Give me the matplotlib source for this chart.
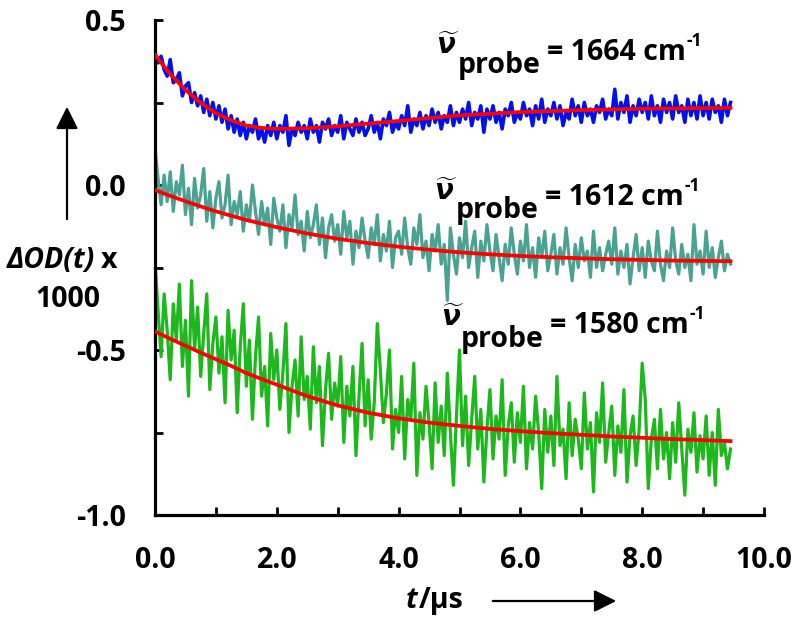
import numpy as np
import matplotlib
matplotlib.use('Agg')
import matplotlib.pyplot as plt
from matplotlib.ticker import MultipleLocator, FormatStrFormatter

plt.rcParams['font.family'] = ['Open Sans', 'DejaVu Sans']
plt.rcParams['font.weight'] = 'bold'
plt.rcParams['mathtext.fontset'] = 'custom'
plt.rcParams['mathtext.it'] = 'DejaVu Sans:italic:bold'
plt.rcParams['mathtext.rm'] = 'DejaVu Sans:bold'

# ---------------- data ----------------
t = np.round(np.arange(0, 9.46, 0.05), 2)

blue_1664 = [
    0.40, 0.37, 0.39, 0.35, 0.33, 0.38, 0.31, 0.32, 0.34, 0.27,
    0.30, 0.31, 0.25, 0.28, 0.24, 0.27, 0.22, 0.26, 0.21, 0.25,
    0.20, 0.24, 0.19, 0.23, 0.17, 0.21, 0.16, 0.20, 0.15, 0.19,
    0.14, 0.18, 0.16, 0.20, 0.14, 0.17, 0.13, 0.18, 0.15, 0.19,
    0.14, 0.18, 0.16, 0.21, 0.12, 0.17, 0.15, 0.19, 0.16, 0.18,
    0.14, 0.20, 0.16, 0.18, 0.13, 0.19, 0.17, 0.20, 0.15, 0.18,
    0.16, 0.21, 0.14, 0.19, 0.17, 0.15, 0.20, 0.16, 0.19, 0.15,
    0.17, 0.21, 0.16, 0.19, 0.14, 0.20, 0.18, 0.22, 0.16, 0.19,
    0.17, 0.21, 0.18, 0.24, 0.16, 0.20, 0.18, 0.22, 0.17, 0.21,
    0.18, 0.23, 0.19, 0.22, 0.17, 0.21, 0.19, 0.24, 0.18, 0.22,
    0.19, 0.23, 0.20, 0.25, 0.18, 0.22, 0.20, 0.24, 0.16, 0.23,
    0.20, 0.24, 0.19, 0.22, 0.17, 0.23, 0.21, 0.25, 0.19, 0.22,
    0.20, 0.25, 0.21, 0.23, 0.18, 0.24, 0.20, 0.26, 0.19, 0.23,
    0.21, 0.25, 0.20, 0.24, 0.18, 0.22, 0.20, 0.26, 0.21, 0.24,
    0.19, 0.25, 0.21, 0.23, 0.19, 0.24, 0.22, 0.26, 0.20, 0.23,
    0.21, 0.29, 0.20, 0.25, 0.22, 0.27, 0.19, 0.24, 0.21, 0.26,
    0.22, 0.25, 0.20, 0.27, 0.21, 0.24, 0.19, 0.26, 0.22, 0.25,
    0.20, 0.27, 0.22, 0.24, 0.19, 0.26, 0.21, 0.25, 0.20, 0.27,
    0.21, 0.25, 0.20, 0.26, 0.22, 0.24, 0.19, 0.26, 0.21, 0.25,
]

teal_1612 = [
    0.11, 0.02, -0.06, 0.03, -0.05, 0.04, -0.08, 0.01, -0.03, 0.06,
    -0.09, -0.01, -0.12, 0.02, -0.07, -0.03, 0.05, -0.11, -0.02, -0.13,
    -0.04, 0.01, -0.10, -0.06, 0.03, -0.12, -0.05, -0.09, -0.02, -0.14,
    -0.06, -0.11, 0.00, -0.08, -0.15, -0.05, -0.12, -0.07, -0.18, -0.04,
    -0.10, -0.14, -0.06, -0.19, -0.09, -0.13, -0.03, -0.15, -0.11, -0.20,
    -0.08, -0.16, -0.12, -0.06, -0.18, -0.10, -0.22, -0.13, -0.09, -0.17,
    -0.12, -0.21, -0.08, -0.16, -0.11, -0.24, -0.14, -0.19, -0.10, -0.17,
    -0.22, -0.13, -0.18, -0.09, -0.23, -0.15, -0.20, -0.11, -0.25, -0.16,
    -0.14, -0.21, -0.10, -0.19, -0.24, -0.13, -0.18, -0.09, -0.22, -0.17,
    -0.26, -0.15, -0.20, -0.12, -0.24, -0.18, -0.35, -0.13, -0.21, -0.27,
    -0.16, -0.22, -0.11, -0.25, -0.19, -0.14, -0.28, -0.17, -0.23, -0.12,
    -0.20, -0.26, -0.15, -0.22, -0.29, -0.18, -0.24, -0.13, -0.21, -0.27,
    -0.17, -0.23, -0.12, -0.25, -0.19, -0.28, -0.16, -0.22, -0.14, -0.26,
    -0.21, -0.15, -0.27, -0.19, -0.24, -0.13, -0.22, -0.29, -0.18, -0.25,
    -0.16, -0.23, -0.20, -0.28, -0.14, -0.25, -0.19, -0.26, -0.21, -0.17,
    -0.24, -0.13, -0.27, -0.20, -0.25, -0.18, -0.30, -0.22, -0.15, -0.26,
    -0.19, -0.28, -0.17, -0.23, -0.26, -0.14, -0.24, -0.29, -0.20, -0.25,
    -0.13, -0.23, -0.27, -0.18, -0.25, -0.21, -0.29, -0.12, -0.24, -0.20,
    -0.27, -0.14, -0.25, -0.19, -0.28, -0.22, -0.17, -0.26, -0.21, -0.24,
]

green_1580 = [
    -0.23, -0.38, -0.52, -0.33, -0.44, -0.59, -0.36, -0.47, -0.30, -0.55,
    -0.41, -0.64, -0.29, -0.50, -0.37, -0.58, -0.45, -0.33, -0.62, -0.48,
    -0.40, -0.57, -0.46, -0.66, -0.38, -0.53, -0.44, -0.69, -0.49, -0.36,
    -0.61, -0.47, -0.71, -0.52, -0.40, -0.64, -0.55, -0.73, -0.45, -0.59,
    -0.50, -0.68, -0.57, -0.42, -0.75, -0.61, -0.53, -0.70, -0.46, -0.65,
    -0.58, -0.74, -0.49, -0.66, -0.55, -0.79, -0.62, -0.51, -0.71, -0.60,
    -0.67, -0.52, -0.78, -0.61, -0.70, -0.55, -0.82, -0.64, -0.48, -0.73,
    -0.59, -0.77, -0.66, -0.42, -0.56, -0.72, -0.63, -0.50, -0.80, -0.68,
    -0.75, -0.58, -0.83, -0.65, -0.71, -0.54, -0.88, -0.69, -0.77, -0.61,
    -0.72, -0.86, -0.60, -0.78, -0.67, -0.82, -0.57, -0.75, -0.91, -0.70,
    -0.50, -0.79, -0.64, -0.85, -0.71, -0.58, -0.80, -0.68, -0.90, -0.74,
    -0.62, -0.83, -0.70, -0.77, -0.59, -0.88, -0.73, -0.66, -0.84, -0.69,
    -0.78, -0.61, -0.86, -0.72, -0.80, -0.64, -0.75, -0.92, -0.68, -0.81,
    -0.70, -0.85, -0.58, -0.79, -0.74, -0.89, -0.66, -0.82, -0.71, -0.77,
    -0.86, -0.63, -0.80, -0.72, -0.93, -0.69, -0.78, -0.60, -0.84, -0.75,
    -0.67, -0.88, -0.73, -0.81, -0.62, -0.90, -0.76, -0.70, -0.85, -0.74,
    -0.54, -0.65, -0.92, -0.77, -0.71, -0.86, -0.68, -0.83, -0.75, -0.89,
    -0.72, -0.84, -0.66, -0.80, -0.94, -0.74, -0.81, -0.69, -0.87, -0.76,
    -0.83, -0.70, -0.88, -0.75, -0.91, -0.68, -0.82, -0.78, -0.86, -0.80,
]

fit_t = [0, 0.25, 0.5, 0.75, 1, 1.25, 1.5, 1.75, 2, 2.5, 3, 3.5, 4, 4.5,
         5, 5.5, 6, 6.5, 7, 7.5, 8, 8.5, 9, 9.45]
fit_1664 = [0.394, 0.336, 0.288, 0.249, 0.218, 0.196, 0.180, 0.173, 0.170,
            0.172, 0.178, 0.186, 0.194, 0.203, 0.211, 0.216, 0.221, 0.224,
            0.227, 0.229, 0.231, 0.232, 0.233, 0.234]
fit_1612 = [-0.015, -0.033, -0.049, -0.065, -0.080, -0.093, -0.106, -0.117,
            -0.128, -0.147, -0.163, -0.176, -0.187, -0.196, -0.204, -0.210,
            -0.215, -0.219, -0.222, -0.225, -0.227, -0.229, -0.230, -0.231]
fit_1580 = [-0.444, -0.466, -0.487, -0.508, -0.528, -0.548, -0.570, -0.588,
            -0.605, -0.640, -0.668, -0.690, -0.707, -0.720, -0.730, -0.739,
            -0.746, -0.752, -0.757, -0.762, -0.766, -0.770, -0.773, -0.776]

x_ticks = [0.0, 2.0, 4.0, 6.0, 8.0, 10.0]
y_ticks = [-1.0, -0.5, 0.0, 0.5]
probe_values = ['1664', '1612', '1580']

# ---------------- figure ----------------
W, H = 800, 626
FS = 20.5
fig = plt.figure(figsize=(W / 100, H / 100), dpi=100)
ax = fig.add_axes([155 / W, (H - 515) / H, 609 / W, 495 / H])

ax.plot(t, blue_1664, color='#0010F0', lw=2.6, zorder=2)
ax.plot(t, teal_1612, color='#4AA292', lw=2.3, zorder=2)
ax.plot(t, green_1580, color='#1CB81C', lw=2.3, zorder=2)
for f in (fit_1664, fit_1612, fit_1580):
    ax.plot(fit_t, f, color='#FF0000', lw=2.7, zorder=3)

ax.set_xlim(0, 10)
ax.set_ylim(-1.0, 0.5)
ax.set_xticks(x_ticks)
ax.set_yticks(y_ticks)
ax.xaxis.set_minor_locator(MultipleLocator(1.0))
ax.yaxis.set_minor_locator(MultipleLocator(0.25))
ax.xaxis.set_major_formatter(FormatStrFormatter('%.1f'))
ax.yaxis.set_major_formatter(FormatStrFormatter('%.1f'))
for s in ('top', 'right'):
    ax.spines[s].set_visible(False)
for s in ('left', 'bottom'):
    ax.spines[s].set_linewidth(2.3)
ax.tick_params(which='both', direction='in', length=6, width=2.0)
ax.tick_params(axis='x', which='major', pad=22, labelsize=FS)
ax.tick_params(axis='y', which='major', pad=21, labelsize=FS)
for lab in ax.get_xticklabels() + ax.get_yticklabels():
    lab.set_fontweight('bold')

renderer = fig.canvas.get_renderer()


def px(x, y):
    return x / W, 1 - y / H


def right_edge(txt):
    return txt.get_window_extent(renderer).x1  # display pixels from left


# probe labels
anchors = [((436, 54), (458, 73), 60), ((434, 200), (456, 218), 205),
           ((441, 326), (461, 347), 333)]
for (nu, pr, eq_y), val in zip(anchors, probe_values):
    fig.text(*px(*nu), r'$\widetilde{\nu}$', fontsize=20, ha='left', va='baseline')
    tp = fig.text(*px(*pr), 'probe', fontsize=FS, fontweight='bold',
                  ha='left', va='baseline')
    xe = right_edge(tp) + 6
    te = fig.text(*px(xe, eq_y), '= ' + val + ' cm', fontsize=FS,
                  fontweight='bold', ha='left', va='baseline')
    xs = right_edge(te) + 1
    fig.text(*px(xs, eq_y - 14), '-1', fontsize=12.5, fontweight='bold',
             ha='left', va='baseline')

# y label
ty = fig.text(*px(7, 268), 'ΔOD(t)', fontsize=FS, fontweight='bold',
              style='italic', ha='left', va='baseline')
fig.text(*px(right_edge(ty) + 6, 268), 'x', fontsize=FS, fontweight='bold',
         ha='left', va='baseline')
fig.text(*px(68, 307), '1000', fontsize=FS, fontweight='bold', ha='center',
         va='baseline')
ax.annotate('', xy=(67, H - 104), xytext=(67, H - 222), xycoords='figure pixels',
            textcoords='figure pixels',
            arrowprops=dict(arrowstyle='-|>,head_length=0.9,head_width=0.45',
                            lw=1.6, color='black', mutation_scale=15))

# x label
tt = fig.text(*px(406, 608), 't', fontsize=FS, fontweight='bold', style='italic',
              ha='left', va='baseline')
fig.text(*px(right_edge(tt) + 1, 608), '/μs', fontsize=FS, fontweight='bold',
         ha='left', va='baseline')
ax.annotate('', xy=(619, H - 601), xytext=(490, H - 601), xycoords='figure pixels',
            textcoords='figure pixels',
            arrowprops=dict(arrowstyle='-|>,head_length=0.9,head_width=0.45',
                            lw=1.6, color='black', mutation_scale=15))

fig.savefig('out.png', dpi=100)
